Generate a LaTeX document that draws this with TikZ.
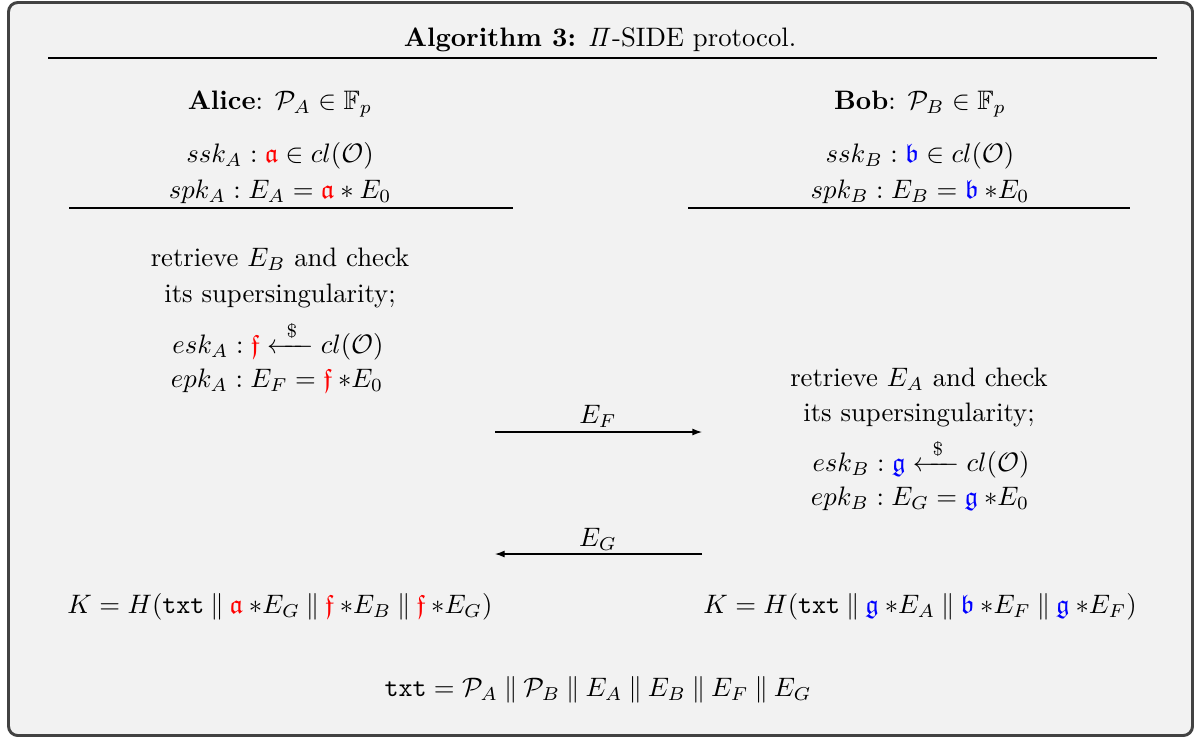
\documentclass[tikz,border=0pt]{standalone}
\usepackage{amsmath,amssymb,amsfonts}
\usepackage{xcolor}
\usepackage{tikz}
\usetikzlibrary{arrows.meta}
\definecolor{framegray}{RGB}{66,66,66}
\definecolor{panelgray}{RGB}{242,242,242}
\definecolor{alicered}{RGB}{255,0,0}
\definecolor{bobblue}{RGB}{0,0,255}
\newcommand{\akey}[1]{{\color{alicered}\mathfrak{#1}}}
\newcommand{\bkey}[1]{{\color{bobblue}\mathfrak{#1}}}
\newcommand{\concat}{\mathbin{\|}}
\newcommand{\stxt}{\texttt{txt}}
\newcommand{\sample}{\xleftarrow{\hspace{3.5pt}\$\hspace{3.5pt}}}

\begin{document}
\begin{tikzpicture}[
  x=0.3745pt,y=-0.3745pt,
  font=\normalsize,
  frm/.style={draw=framegray,fill=panelgray,line width=1.1pt,rounded corners=3.5pt},
  ln/.style={anchor=base,inner sep=0pt},
  rl/.style={draw=black,line width=0.5pt},
  ar/.style={-{Latex[length=3.6pt,width=2.6pt]},draw=black,line width=0.45pt}
]
\useasboundingbox (0,0) rectangle (1196,738);
\draw[frm] (8.5,2.5) rectangle (1192.5,735.5);

% ---- caption
\node[ln] (title) at (600,46) {\textbf{Algorithm 3:} $\mathit{\Pi}$-SIDE protocol.};
\coordinate (tL) at (48,58); \coordinate (tR) at (1157,58);
\draw[rl] (tL) -- (tR);

% ---- Alice : static keys
\node[ln] (alice) at (280,109) {\textbf{Alice}: $\mathcal{P}_A \in \mathbb{F}_p$};
\node[ln] (sskA) at (280,162) {$ssk_A : \akey{a} \in cl(\mathcal{O})$};
\node[ln] (spkA) at (280,198) {$spk_A : E_A = \akey{a} \ast E_0$};
\coordinate (aL) at (69,208); \coordinate (aR) at (513,208);
\draw[rl] (aL) -- (aR);

% ---- Bob : static keys
\node[ln] (bob) at (920,109) {\textbf{Bob}: $\mathcal{P}_B \in \mathbb{F}_p$};
\node[ln] (sskB) at (920,162) {$ssk_B : \bkey{b} \in cl(\mathcal{O})$};
\node[ln] (spkB) at (920,198) {$spk_B : E_B = \bkey{b} \:{\ast}E_0$};
\coordinate (bL) at (688,208); \coordinate (bR) at (1130,208);
\draw[rl] (bL) -- (bR);

% ---- Alice : ephemeral
\node[ln] (chkA) at (280,266) {retrieve $E_B$ and check};
\node[ln] (chkA2) at (280,302) {its supersingularity;};
\node[ln] (eskA) at (278,353) {$esk_A : \akey{f} \sample cl(\mathcal{O})$};
\node[ln] (epkA) at (277,387) {$epk_A : E_F = \akey{f} \:{\ast}E_0$};

% ---- Bob : ephemeral
\node[ln] (chkB) at (919,386) {retrieve $E_A$ and check};
\node[ln] (chkB2) at (919,421) {its supersingularity;};
\node[ln] (eskB) at (921,471) {$esk_B : \bkey{g} \sample cl(\mathcal{O})$};
\node[ln] (epkB) at (920,505) {$epk_B : E_G = \bkey{g} \:{\ast}E_0$};

% ---- messages
\coordinate (fL) at (495,432); \coordinate (fR) at (702,432);
\draw[ar] (fL) -- (fR);
\node[ln] (msgF) at (598,423) {$E_F$};
\coordinate (gR) at (702,554); \coordinate (gL) at (495,554);
\draw[ar] (gR) -- (gL);
\node[ln] (msgG) at (598,546) {$E_G$};

% ---- session keys
\node[ln] (keyA) at (280,613) {$K = H(\stxt \concat \akey{a} \:{\ast}E_G \concat \akey{f} \:{\ast}E_B \concat \akey{f} \:{\ast}E_G)$};
\node[ln] (keyB) at (920,613) {$K = H(\stxt \concat \bkey{g} \:{\ast}E_A \concat \bkey{b} \:{\ast}E_F \concat \bkey{g} \:{\ast}E_F)$};
\node[ln] (trans) at (598,696) {$\stxt = \mathcal{P}_A \concat \mathcal{P}_B \concat E_A \concat E_B \concat E_F \concat E_G$};
\end{tikzpicture}
\end{document}
